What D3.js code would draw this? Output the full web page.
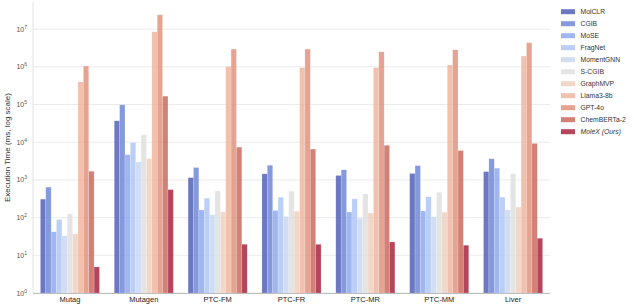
<!DOCTYPE html>
<html><head><meta charset="utf-8">
<script src="https://cdn.jsdelivr.net/npm/d3@7"></script>
<style>
body{margin:0;background:#fff;}
text{font-family:"Liberation Sans",Arial,sans-serif;}
</style></head>
<body><svg id="c" width="634" height="307"></svg>
<script>
const categories = ["Mutag","Mutagen","PTC-FM","PTC-FR","PTC-MR","PTC-MM","Liver"];
const models = ["MolCLR","CGIB","MoSE","FragNet","MomentGNN","S-CGIB","GraphMVP","Llama3-8b","GPT-4o","ChemBERTa-2","MoleX (Ours)"];
const MolCLR     = [309, 37000, 1150, 1450, 1310, 1480, 1660];
const CGIB       = [644, 98000, 2130, 2450, 1850, 2400, 3630];
const MoSE       = [42, 4650, 160, 154, 141, 150, 2050];
const FragNet    = [89, 9800, 328, 347, 315, 355, 350];
const MomentGNN  = [33, 3000, 120, 107, 96, 105, 160];
const SCGIB      = [125, 15800, 510, 502, 425, 470, 1450];
const GraphMVP   = [37, 3700, 142, 148, 133, 139, 190];
const Llama3     = [400000, 8500000, 1020000, 950000, 950000, 1120000, 1940000];
const GPT4o      = [1050000, 24000000, 2960000, 2960000, 2500000, 2840000, 4370000];
const ChemBERTa2 = [1700, 167000, 7400, 6570, 8300, 6000, 9300];
const MoleX      = [4.9, 553, 19.6, 19.6, 22.6, 18.5, 28.3];
const seriesValues = [MolCLR, CGIB, MoSE, FragNet, MomentGNN, SCGIB, GraphMVP, Llama3, GPT4o, ChemBERTa2, MoleX];
const yTickExps = [0,1,2,3,4,5,6,7];

// coolwarm samples at 0,0.1,...,1
const palette = ["#3b4cc0","#5978e3","#7c9ff9","#9fbfff","#c0d4f5","#dddddd","#f2cbb6","#f7ad90","#ee8468","#d75445","#b40426"];

const svg = d3.select("#c");
const L = 33, R = 550, T = 2, B = 293;
const x = d3.scaleLinear().domain([-0.5, categories.length - 0.5]).range([L, R]);
const y = d3.scaleLog().domain([1, Math.pow(10, 7.72)]).range([B, T]);
const step = x(1) - x(0);
const bw = step * 0.8 / models.length;

// grid
svg.append("g").selectAll("line").data(yTickExps).join("line")
  .attr("x1", L).attr("x2", R)
  .attr("y1", d => y(Math.pow(10, d))).attr("y2", d => y(Math.pow(10, d)))
  .attr("stroke", "#ebebeb").attr("stroke-width", 1);

// bars
const colorFor = i => { const c = d3.hsl(palette[i]); c.s *= 0.8; return c.formatHex(); };
models.forEach((m, i) => {
  svg.append("g").selectAll("rect").data(seriesValues[i]).join("rect")
    .attr("x", (d, j) => x(j) - step * 0.4 + i * bw)
    .attr("width", bw)
    .attr("y", d => y(d))
    .attr("height", d => B - y(d))
    .attr("fill", colorFor(i))
    .attr("fill-opacity", 0.8)
    .attr("stroke", "#ffffff").attr("stroke-opacity", 0.35).attr("stroke-width", 0.5);
});

// spines
svg.append("line").attr("x1", L).attr("x2", L).attr("y1", T).attr("y2", B).attr("stroke", "#e2e2e2").attr("stroke-width", 1);
svg.append("line").attr("x1", L).attr("x2", R).attr("y1", B + 0.5).attr("y2", B + 0.5).attr("stroke", "#bdbdbd").attr("stroke-width", 1);

// y tick labels
const yl = svg.append("g").selectAll("text").data(yTickExps).join("text")
  .attr("x", 27).attr("y", d => y(Math.pow(10, d)) + 2.5)
  .attr("text-anchor", "end").attr("font-size", 7).attr("fill", "#555");
yl.append("tspan").text("10");
yl.append("tspan").attr("dy", -3).attr("font-size", 5).text(d => d);

// x labels
svg.append("g").selectAll("text").data(categories).join("text")
  .attr("x", (d, j) => x(j)).attr("y", 301.5)
  .attr("text-anchor", "middle").attr("font-size", 7.5).attr("fill", "#222").text(d => d);

// y axis label
svg.append("text").attr("transform", `translate(9.5,${(T + B) / 2}) rotate(-90)`)
  .attr("text-anchor", "middle").attr("font-size", 8).attr("fill", "#333")
  .text("Execution Time (ms, log scale)");

// legend
const lg = svg.append("g");
models.forEach((m, i) => {
  const yy = 11.7 + i * 12;
  lg.append("rect").attr("x", 561).attr("y", yy - 2.5).attr("width", 14).attr("height", 5)
    .attr("fill", colorFor(i)).attr("fill-opacity", 0.8);
  const t = lg.append("text").attr("x", 580.5).attr("y", yy + 2.5).attr("font-size", 6.8).attr("fill", "#333").text(m);
  if (i === models.length - 1) t.attr("font-style", "italic");
});
</script>
</body></html>
